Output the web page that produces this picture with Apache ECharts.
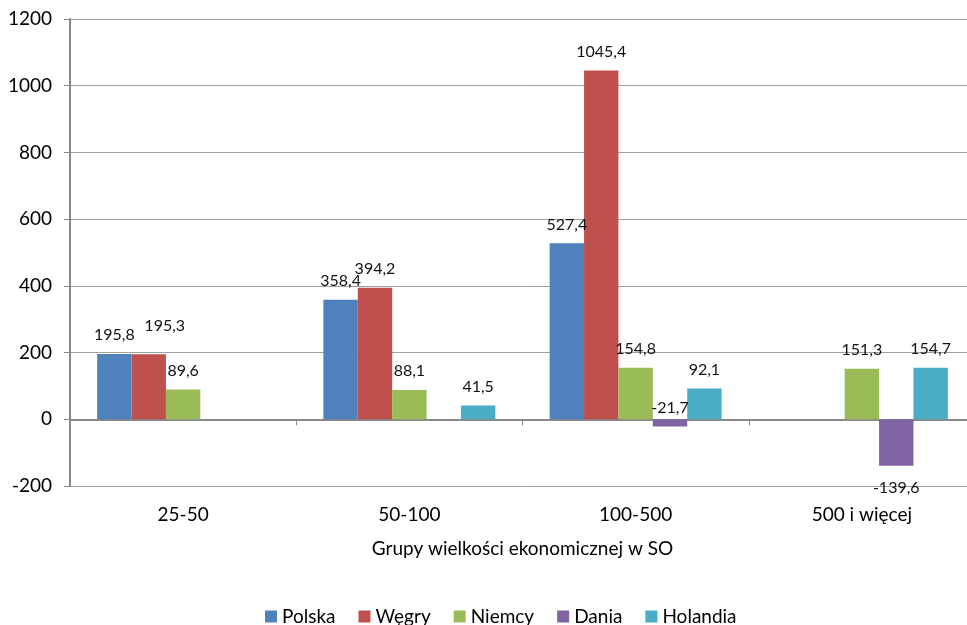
<!DOCTYPE html>
<html>
<head>
<meta charset="utf-8">
<script src="https://cdn.jsdelivr.net/npm/echarts@6/dist/echarts.min.js"></script>
<style>html,body{margin:0;padding:0;background:#fff;overflow:hidden;width:967px;height:625px}#c{width:975px;height:625px}</style>
</head>
<body>
<div id="c"></div>
<script>
const categories = ['25-50', '50-100', '100-500', '500 i więcej'];
const seriesNames = ['Polska', 'Węgry', 'Niemcy', 'Dania', 'Holandia'];
const polska = [195.8, 358.4, 527.4, null];
const wegry = [195.3, 394.2, 1045.4, null];
const niemcy = [89.6, 88.1, 154.8, 151.3];
const dania = [null, null, -21.7, -139.6];
const holandia = [null, 41.5, 92.1, 154.7];
const yTicks = { min: -200, max: 1200, interval: 200 };
const colors = ['#4F81BD', '#C0504D', '#9BBB59', '#8064A2', '#4BACC6'];
const allValues = [polska, wegry, niemcy, dania, holandia];

const FONT = 'Lato, "Open Sans", sans-serif';
const fmt = v => String(v).replace('.', ',');

function buildData(vals, si) {
  return vals.map((v, i) => {
    if (v === null) return null;
    const item = { value: v };
    if (si === 1 && i === 0) item.label = { distance: 20, offset: [16, 0] };
    if (si === 3 && v < 0 && v > -50) item.label = { position: 'top', distance: 3 };
    if (si === 3 && v <= -50) item.label = { position: 'bottom', distance: 14 };
    return item;
  });
}

const chart = echarts.init(document.getElementById('c'), null, { renderer: 'canvas' });
chart.setOption({
  animation: false,
  color: colors,
  textStyle: { fontFamily: FONT },
  grid: { left: 70, top: 19, right: 0, height: 467, containLabel: false },
  legend: {
    data: seriesNames,
    top: 607,
    left: 265,
    padding: 0,
    icon: 'rect',
    itemWidth: 12,
    itemHeight: 12,
    itemGap: 23,
    textStyle: { fontSize: 19, color: '#000', fontFamily: FONT, padding: [0, 0, 0, 0] }
  },
  xAxis: [
    {
      type: 'category',
      data: categories,
      position: 'bottom',
      axisLine: { show: false, onZero: false },
      axisTick: { show: false },
      axisLabel: { fontSize: 19, color: '#000', margin: 19, fontFamily: FONT },
      splitLine: { show: false },
      name: 'Grupy wielkości ekonomicznej w SO',
      nameLocation: 'middle',
      nameGap: 53,
      nameTextStyle: { fontSize: 19, color: '#000', fontFamily: FONT }
    },
    {
      type: 'category',
      data: categories,
      position: 'bottom',
      axisLine: { show: true, onZero: true, lineStyle: { color: '#888', width: 2 } },
      axisTick: { show: true, length: 6, lineStyle: { color: '#888', width: 1 } },
      axisLabel: { show: false },
      splitLine: { show: false }
    }
  ],
  yAxis: {
    type: 'value',
    min: yTicks.min,
    max: yTicks.max,
    interval: yTicks.interval,
    axisLine: { show: true, lineStyle: { color: '#888', width: 2 } },
    axisTick: { show: true, length: 6, lineStyle: { color: '#888' } },
    axisLabel: { fontSize: 19, color: '#000', margin: 18, fontFamily: FONT, formatter: v => String(v) },
    splitLine: { show: true, lineStyle: { color: '#a0a0a0', width: 1 } }
  },
  series: seriesNames.map((name, si) => ({
    name,
    type: 'bar',
    xAxisIndex: 0,
    barGap: 0,
    barCategoryGap: '24%',
    data: buildData(allValues[si], si),
    label: {
      show: true,
      position: 'top',
      distance: 11,
      fontSize: 16,
      color: '#111',
      fontFamily: FONT,
      formatter: p => fmt(p.value)
    }
  }))
});
</script>
</body>
</html>
